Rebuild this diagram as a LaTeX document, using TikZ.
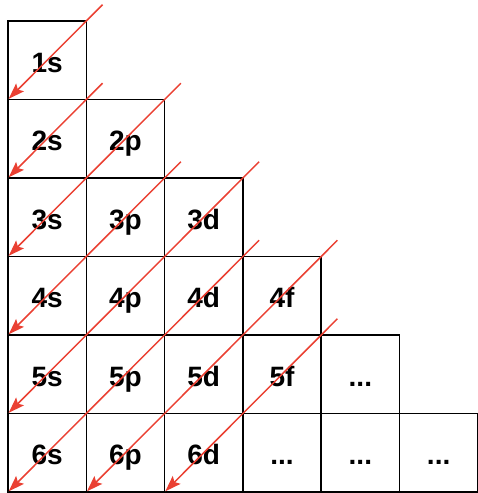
\documentclass[tikz,border=0pt]{standalone}
\usepackage{fontspec}
\setmainfont{Liberation Sans}
\usetikzlibrary{arrows.meta}
\definecolor{arrowred}{RGB}{234,64,50}
\newcommand{\myellip}{...}
\begin{document}
\begin{tikzpicture}[x=1pt,y=1pt,
  cell/.style={draw=black, line width=1.6pt, minimum width=78.3pt, minimum height=78.5pt,
    inner sep=0pt, outer sep=0pt, text height=23.5pt, text depth=0pt,
    font=\fontsize{28}{28}\selectfont\bfseries},
  diag/.style={draw=arrowred, line width=1.5pt, shorten <=-23pt, shorten >=1pt,
    -{Stealth[length=16pt,width=11pt,inset=3pt]}}]
\useasboundingbox (0,0) rectangle (477,-493);
% cells: x = 8 + 78.3*col, y = -(21 + 78.5*row)
\foreach \lab/\c/\r/\nm in {1s/0/0/c1s,
  2s/0/1/c2s, 2p/1/1/c2p,
  3s/0/2/c3s, 3p/1/2/c3p, 3d/2/2/c3d,
  4s/0/3/c4s, 4p/1/3/c4p, 4d/2/3/c4d, 4f/3/3/c4f,
  5s/0/4/c5s, 5p/1/4/c5p, 5d/2/4/c5d, 5f/3/4/c5f, \myellip/4/4/c5g,
  6s/0/5/c6s, 6p/1/5/c6p, 6d/2/5/c6d, \myellip/3/5/c6f, \myellip/4/5/c6g, \myellip/5/5/c6h}
  \node[cell] (\nm) at ({8+78.3*\c+39.15},{-(21+78.5*\r+39.25)}) {\lab};
% diagonal arrows
\draw[diag] (c1s.north east) -- (c1s.south west);
\draw[diag] (c2s.north east) -- (c2s.south west);
\draw[diag] (c2p.north east) -- (c3s.south west);
\draw[diag] (c3p.north east) -- (c4s.south west);
\draw[diag] (c3d.north east) -- (c5s.south west);
\draw[diag] (c4d.north east) -- (c6s.south west);
\draw[diag] (c4f.north east) -- (c6p.south west);
\draw[diag] (c5f.north east) -- (c6d.south west);
\end{tikzpicture}
\end{document}
